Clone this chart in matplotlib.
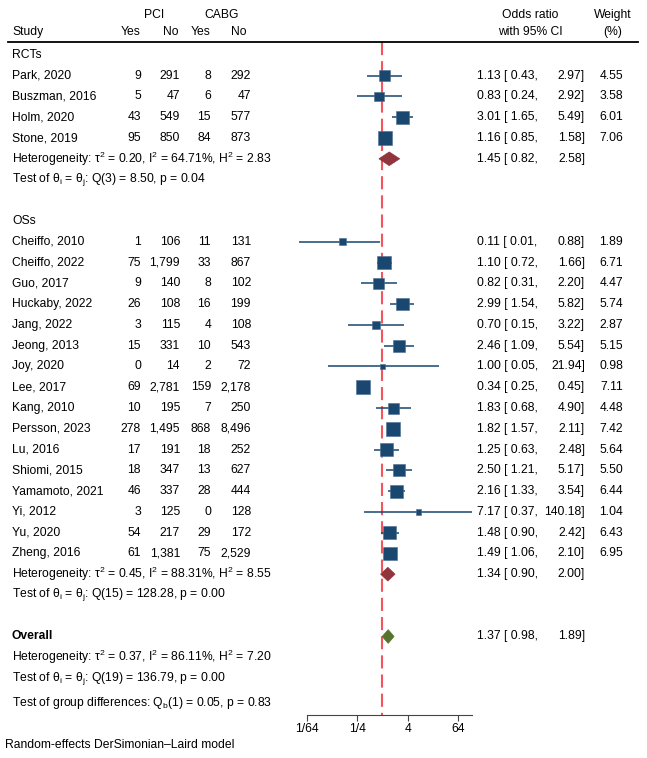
import matplotlib
matplotlib.use("Agg")
import matplotlib.pyplot as plt
from matplotlib.patches import Polygon
from matplotlib.ticker import NullLocator

plt.rcParams['font.family'] = ['Liberation Sans', 'DejaVu Sans']
plt.rcParams['mathtext.fontset'] = 'custom'
plt.rcParams['mathtext.rm'] = 'Liberation Sans'
plt.rcParams['mathtext.it'] = 'Liberation Sans:italic'
plt.rcParams['mathtext.bf'] = 'Liberation Sans:bold'

# Données
etudes_rct = ["Park, 2020", "Buszman, 2016", "Holm, 2020", "Stone, 2019"]
pci_oui_rct = [9, 5, 43, 95]
pci_non_rct = [291, 47, 549, 850]
cabg_oui_rct = [8, 6, 15, 84]
cabg_non_rct = [292, 47, 577, 873]
or_rct = [1.13, 0.83, 3.01, 1.16]
bas_rct = [0.43, 0.24, 1.65, 0.85]
haut_rct = [2.97, 2.92, 5.49, 1.58]
poids_rct = [4.55, 3.58, 6.01, 7.06]

etudes_os = ["Cheiffo, 2010", "Cheiffo, 2022", "Guo, 2017", "Huckaby, 2022", "Jang, 2022",
             "Jeong, 2013", "Joy, 2020", "Lee, 2017", "Kang, 2010", "Persson, 2023", "Lu, 2016",
             "Shiomi, 2015", "Yamamoto, 2021", "Yi, 2012", "Yu, 2020", "Zheng, 2016"]
pci_oui_os = [1, 75, 9, 26, 3, 15, 0, 69, 10, 278, 17, 18, 46, 3, 54, 61]
pci_non_os = [106, 1799, 140, 108, 115, 331, 14, 2781, 195, 1495, 191, 347, 337, 125, 217, 1381]
cabg_oui_os = [11, 33, 8, 16, 4, 10, 2, 159, 7, 868, 18, 13, 28, 0, 29, 75]
cabg_non_os = [131, 867, 102, 199, 108, 543, 72, 2178, 250, 8496, 252, 627, 444, 128, 172, 2529]
or_os = [0.11, 1.10, 0.82, 2.99, 0.70, 2.46, 1.00, 0.34, 1.83, 1.82, 1.25, 2.50, 2.16, 7.17, 1.48, 1.49]
bas_os = [0.01, 0.72, 0.31, 1.54, 0.15, 1.09, 0.05, 0.25, 0.68, 1.57, 0.63, 1.21, 1.33, 0.37, 0.90, 1.06]
haut_os = [0.88, 1.66, 2.20, 5.82, 3.22, 5.54, 21.94, 0.45, 4.90, 2.11, 2.48, 5.17, 3.54, 140.18, 2.42, 2.10]
poids_os = [1.89, 6.71, 4.47, 5.74, 2.87, 5.15, 0.98, 7.11, 4.48, 7.42, 5.64, 5.50, 6.44, 1.04, 6.43, 6.95]

# Estimations groupées (OR, bas, haut)
global_rct = (1.45, 0.82, 2.58)
global_os = (1.34, 0.90, 2.00)
global_tout = (1.37, 0.98, 1.89)

het_rct = r"Heterogeneity: τ$^2$ = 0.20, I$^2$ = 64.71%, H$^2$ = 2.83"
test_rct = r"Test of θ$_\mathrm{i}$ = θ$_\mathrm{j}$: Q(3) = 8.50, p = 0.04"
het_os = r"Heterogeneity: τ$^2$ = 0.45, I$^2$ = 88.31%, H$^2$ = 8.55"
test_os = r"Test of θ$_\mathrm{i}$ = θ$_\mathrm{j}$: Q(15) = 128.28, p = 0.00"
het_tout = r"Heterogeneity: τ$^2$ = 0.37, I$^2$ = 86.11%, H$^2$ = 7.20"
test_tout = r"Test of θ$_\mathrm{i}$ = θ$_\mathrm{j}$: Q(19) = 136.79, p = 0.00"
test_groupes = r"Test of group differences: Q$_\mathrm{b}$(1) = 0.05, p = 0.83"

graduations = [1/64, 1/4, 4, 64]
etiquettes = ["1/64", "1/4", "4", "64"]

marine = "#1a476f"
bordeaux = "#90353b"
vert = "#55752f"
rouge = "#f5535e"
taille = 8.7

W, H = 647, 758
hauteur_ligne = 20.77
y_park = 75.7
x_un = 382.5
px_log2 = 12.58

fig = plt.figure(figsize=(W / 100, H / 100), dpi=100)
ax = fig.add_axes([0, (H - 715) / H, 1, 715 / H])
ax.set_xscale('log', base=2)
ax.set_xlim(2 ** (-x_un / px_log2), 2 ** ((W - x_un) / px_log2))
ax.set_ylim(1 + (715 - y_park) / hauteur_ligne, 1 - y_park / hauteur_ligne)
tr = ax.get_yaxis_transform()


def txt(x, y, s, ha='left', **kw):
    ax.text(x / W, y, s, ha=ha, va='center', fontsize=taille, transform=tr, **kw)


# En-tête
txt(154.5, -1.92, "PCI", ha='center')
txt(221.5, -1.92, "CABG", ha='center')
txt(12, -1.08, "Study")
txt(141, -1.08, "Yes", ha='right')
txt(179, -1.08, "No", ha='right')
txt(211, -1.08, "Yes", ha='right')
txt(247, -1.08, "No", ha='right')
txt(530, -1.92, "Odds ratio", ha='center')
txt(530, -1.08, "with 95% CI", ha='center')
txt(613, -1.92, "Weight", ha='center')
txt(613, -1.08, "(%)", ha='center')
ax.plot([8 / W, 638 / W], [-0.61, -0.61], color='black', lw=1.3, transform=tr, clip_on=False)

# Ligne de référence à OR = 1
ax.plot([1, 1], [-0.61, 31.78], color=rouge, lw=1.5, dashes=(6.3, 2.9), zorder=1)


def bloc(etudes, po, pn, co, cn, ors, bas, haut, poids, debut):
    lignes = list(range(debut, debut + len(etudes)))
    for r, e, a, b, c, d, o, l, h, w in zip(lignes, etudes, po, pn, co, cn, ors, bas, haut, poids):
        txt(12, r, e)
        txt(141, r, f"{a:,}", ha='right')
        txt(180, r, f"{b:,}", ha='right')
        txt(211, r, f"{c:,}", ha='right')
        txt(251, r, f"{d:,}", ha='right')
        txt(477, r, f"{o:.2f} [ {l:.2f},")
        txt(585, r, f"{h:.2f}]", ha='right')
        txt(623, r, f"{w:.2f}", ha='right')
    ax.hlines(lignes, bas, haut, color=marine, lw=1.1, zorder=2)
    ax.scatter(ors, lignes, marker='s', s=[14 * w for w in poids], color=marine,
               edgecolor='#4a6f90', linewidths=0.4, zorder=3)


def losange(est, r, couleur):
    o, l, h = est
    ax.add_patch(Polygon([(l, r), (o, r - 0.33), (h, r), (o, r + 0.33)], closed=True,
                         facecolor=couleur, edgecolor=couleur, lw=0.5, zorder=3))
    txt(477, r, f"{o:.2f} [ {l:.2f},")
    txt(585, r, f"{h:.2f}]", ha='right')


txt(12, 0, "RCTs")
bloc(etudes_rct, pci_oui_rct, pci_non_rct, cabg_oui_rct, cabg_non_rct,
     or_rct, bas_rct, haut_rct, poids_rct, 1)
txt(12, 5, het_rct)
losange(global_rct, 5, bordeaux)
txt(12, 6, test_rct)

txt(12, 8, "OSs")
bloc(etudes_os, pci_oui_os, pci_non_os, cabg_oui_os, cabg_non_os,
     or_os, bas_os, haut_os, poids_os, 9)
txt(12, 25, het_os)
losange(global_os, 25, bordeaux)
txt(12, 26, test_os)

txt(12, 28, "Overall", fontweight='bold')
losange(global_tout, 28, vert)
txt(12, 29, het_tout)
txt(12, 30, test_tout)
txt(12, 31.2, test_groupes)

# Axe des x
for s in ['top', 'left', 'right']:
    ax.spines[s].set_visible(False)
ax.spines['bottom'].set_bounds(2 ** -6, 140.18)
ax.spines['bottom'].set_color('#444444')
ax.set_xticks(graduations)
ax.set_xticklabels(etiquettes)
ax.xaxis.set_minor_locator(NullLocator())
ax.tick_params(axis='x', direction='out', length=4, width=0.8, color='#444444',
               labelsize=taille, pad=2)
ax.set_yticks([])

fig.text(5 / W, 1 - 745 / H, "Random-effects DerSimonian–Laird model", fontsize=taille,
         va='center')

plt.savefig("out.png", dpi=100)
